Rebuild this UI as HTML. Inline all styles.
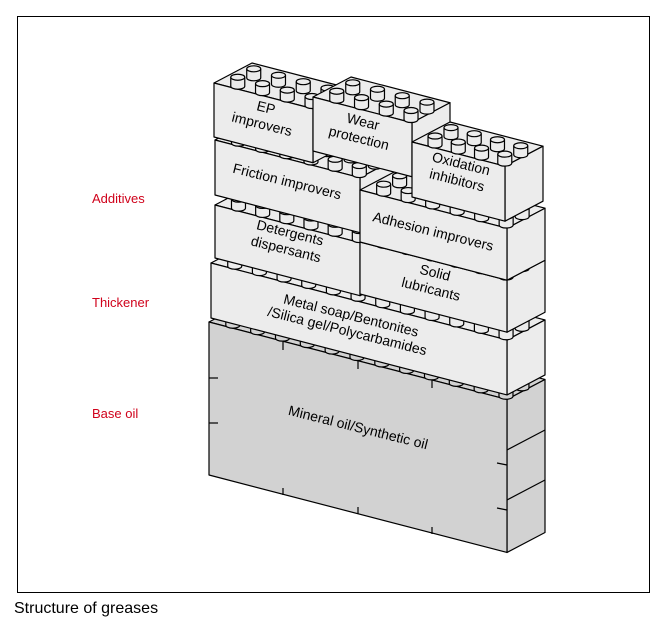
<!DOCTYPE html>
<html><head><meta charset="utf-8"><style>
html,body{margin:0;padding:0;background:#fff;}
svg{display:block;font-family:"Liberation Sans",Arial,sans-serif;}
</style></head><body>
<svg id="s" width="667" height="627" viewBox="0 0 667 627" xmlns="http://www.w3.org/2000/svg">
<rect x="17.5" y="16.5" width="632" height="576" fill="#fff" stroke="#000" stroke-width="1"/>
<g id="shapes"></g>
<g font-size="13" fill="#d0021b">
<text x="92" y="203">Additives</text>
<text x="92" y="307">Thickener</text>
<text x="92" y="418">Base oil</text>
</g>
<g font-size="14" fill="#000" text-anchor="middle">
<text transform="translate(263,120) rotate(14)"><tspan x="0" y="-8">EP</tspan><tspan x="0" y="9">improvers</tspan></text>
<text transform="translate(360,134) rotate(14)"><tspan x="0" y="-8">Wear</tspan><tspan x="0" y="9">protection</tspan></text>
<text transform="translate(458,176) rotate(14)"><tspan x="0" y="-8">Oxidation</tspan><tspan x="0" y="9">inhibitors</tspan></text>
<text transform="translate(286,186) rotate(14)"><tspan x="0" y="0">Friction improvers</tspan></text>
<text transform="translate(432,236) rotate(14)"><tspan x="0" y="0">Adhesion improvers</tspan></text>
<text transform="translate(287,245) rotate(14)"><tspan x="0" y="-8">Detergents</tspan><tspan x="0" y="9">dispersants</tspan></text>
<text transform="translate(432,285) rotate(14)"><tspan x="0" y="-8">Solid</tspan><tspan x="0" y="9">lubricants</tspan></text>
<text transform="translate(350,320) rotate(14)"><tspan x="0" y="0">Metal soap/Bentonites</tspan><tspan x="0" y="16">/Silica gel/Polycarbamides</tspan></text>
<text transform="translate(357,432) rotate(14)"><tspan x="0" y="0">Mineral oil/Synthetic oil</tspan></text>
</g>
<text x="14" y="613" font-size="16" fill="#000">Structure of greases</text>
</svg>
<script>
var NS="http://www.w3.org/2000/svg",g=document.getElementById("shapes");
var S=0.26,DX=38,DY=-20;
function el(t,a){var e=document.createElementNS(NS,t);for(var k in a)e.setAttribute(k,a[k]);g.appendChild(e);return e;}
function poly(p,f){el("polygon",{points:p.map(function(q){return q[0]+","+q[1]}).join(" "),fill:f,stroke:"#000","stroke-width":1.2,"stroke-linejoin":"round"});}
function stud(cx,cy,f){
 el("path",{d:"M"+(cx-7)+","+(cy-9)+" L"+(cx-7)+","+cy+" A7,3 0 0 0 "+(cx+7)+","+cy+" L"+(cx+7)+","+(cy-9),fill:f,stroke:"#000","stroke-width":1.2});
 el("ellipse",{cx:cx,cy:cy-9,rx:7,ry:3,fill:f,stroke:"#000","stroke-width":1.2});
}
function box(x,y,w,h,f,n){
 var a=[x,y],b=[x+w,y+w*S],c=[x+w,y+w*S+h],d=[x,y+h];
 var bb=[b[0]+DX,b[1]+DY],aa=[x+DX,y+DY],cc=[c[0]+DX,c[1]+DY];
 poly([a,b,bb,aa],f);
 poly([b,c,cc,bb],f);
 poly([a,b,c,d],f);
 if(n){
  [0.72,0.3].forEach(function(v){
   for(var i=0;i<n;i++){var u=(i+0.5)/n;
    stud(x+u*w+v*DX,y+u*w*S+v*DY+6,f);}
  });
 }
}
box(209,322,298,153,"#d2d2d2",12);
[[283,342,283,350],[358,361,358,369],[432,380,432,388],[283,495,283,488],[358,514,358,507],[432,534,432,527],[209,378,218,378],[209,423,218,423],[507,465,497,463],[507,510,497,508]].forEach(function(t){el("line",{x1:t[0],y1:t[1],x2:t[2],y2:t[3],stroke:"#000","stroke-width":1.2});});
el("line",{x1:507,y1:450,x2:545,y2:430,stroke:"#000","stroke-width":1.2});
el("line",{x1:507,y1:500,x2:545,y2:480,stroke:"#000","stroke-width":1.2});
box(211,263,296,55,"#ececec",12);
box(215,205,145,53,"#ececec",6);
box(215,140,145,55,"#ececec",6);
box(360,242,147,52,"#ececec",6);
box(360,190,147,52,"#ececec",6);
box(214,83,99,54,"#ececec",4);
box(313,97,99,54,"#ececec",4);
box(412,142,93,55,"#ececec",4);
</script>
</body></html>
